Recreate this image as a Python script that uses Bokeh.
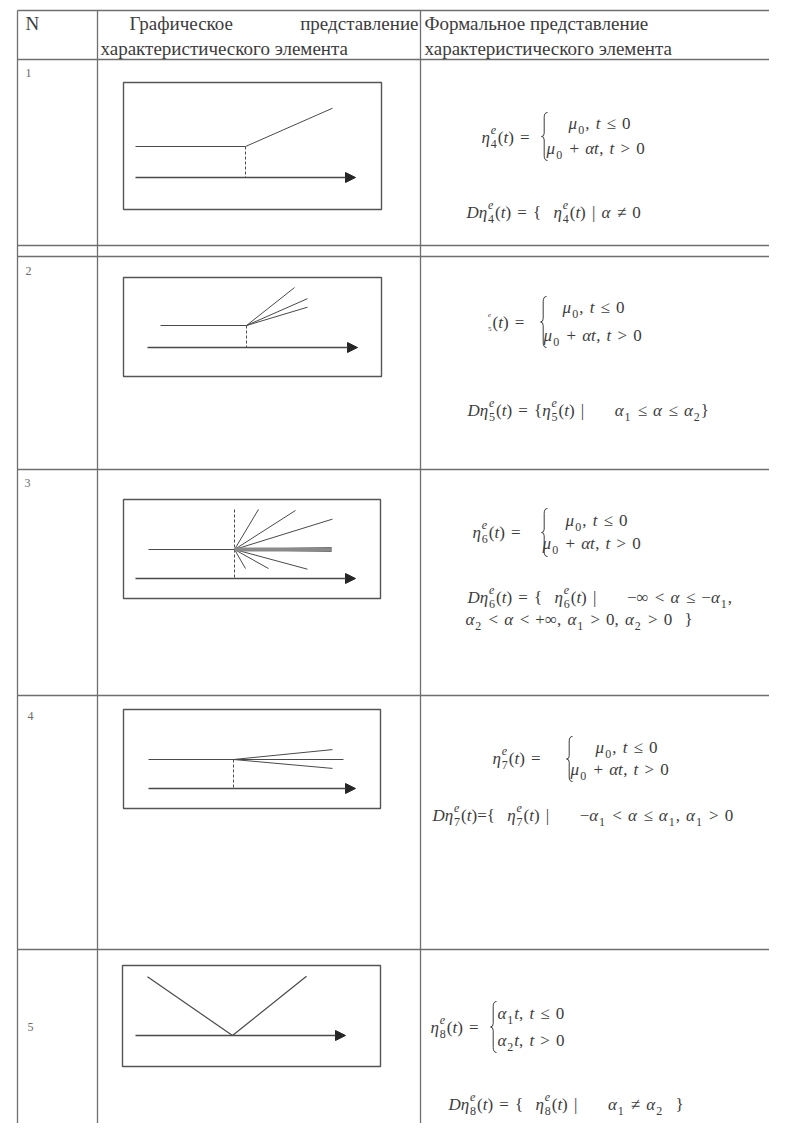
from bokeh.plotting import figure
from bokeh.models import Range1d, Arrow, NormalHead, ColumnDataSource
from bokeh.embed import file_html
from bokeh.resources import INLINE
from bokeh.core.properties import value

# ---------------- data ----------------
HEADER_N = "N"
HEADER_GRAPH = ["Графическое", "представление", "характеристического элемента"]
HEADER_FORMAL = ["Формальное представление", "характеристического элемента"]
ROW_LABELS = ["1", "2", "3", "4", "5"]

# diagram values (local units: t to the right of the break point, value above the time axis)
LEVEL = [31, 22, 29, 29, 0]                 # mu_0 level above the time axis
LEVEL_T0 = [-110, -86, -86, -85, 0]         # start of the constant part (t <= 0)
AXIS_T = [(-110, 110), (-99, 111), (-99, 121), (-85, 122), (-97, 113)]
DASH_TOP = [31, 22, 69, 29, 0]              # top of the dashed marker at t = 0
FAN_SLOPE = [
    [0.44],
    [0.79, 0.44, 0.30],
    [1.67, 0.64, 0.31, -0.02, -0.01, 0.0, 0.01, 0.02, -1.73, -0.56, -0.27],
    [0.10, 0.0, -0.09],
    [],
]
FAN_TEND = [
    [87],
    [48, 61, 61],
    [24, 61, 98, 97, 97, 97, 97, 97, 11, 34, 73],
    [99, 110, 99],
    [],
]
V_ALPHA = [-0.69, 0.80]    # row 5: alpha1 (t<=0), alpha2 (t>0)
V_TEND = [-85, 74]

FORMULAS = [
    # (lhs, line1, line2, domain lines)
    ("η^e_4(t) =", "μ_0, t ≤ 0", "μ_0 + αt, t > 0", ["Dη^e_4(t) = {  η^e_4(t) | α ≠ 0"]),
    ("^e_5(t) =", "μ_0, t ≤ 0", "μ_0 + αt, t > 0", ["Dη^e_5(t) = {η^e_5(t) |     α_1 ≤ α ≤ α_2}"]),
    ("η^e_6(t) =", "μ_0, t ≤ 0", "μ_0 + αt, t > 0",
     ["Dη^e_6(t) = {  η^e_6(t) |     −∞ < α ≤ −α_1,", "α_2 < α < +∞, α_1 > 0, α_2 > 0  }"]),
    ("η^e_7(t) =", "μ_0, t ≤ 0", "μ_0 + αt, t > 0", ["Dη^e_7(t)={  η^e_7(t) |     −α_1 < α ≤ α_1, α_1 > 0"]),
    ("η^e_8(t) =", "α_1t, t ≤ 0", "α_2t, t > 0", ["Dη^e_8(t) = {  η^e_8(t) |     α_1 ≠ α_2  }"]),
]

# ---------------- layout (page pixels) ----------------
W, H = 769, 1123
TABLE_L, COL1, COL2, RIGHT = 17, 97, 420, 790
HLINES = [10, 59, 245, 256, 469, 695, 949]
BOXES = [(123, 82, 381, 209), (123, 277, 381, 376), (123, 499, 380, 598),
         (123, 709, 380, 808), (122, 965, 380, 1066)]
ORIGINS = [(245, 177), (246, 347), (234, 578), (233, 788), (232, 1035)]
LABEL_POS = [(25, 72), (25, 270), (24, 482), (27, 715), (27, 1026)]
# formula placement: lhs(x,y), brace(x,y0,y1), line1(x,y), line2(x,y), domain lines [(x,y)]
FPOS = [
    ((481, 137), (541, 112, 160), (568, 123), (546, 148), [(466, 212)]),
    ((487, 322), (540, 296, 347), (562, 307), (543, 335), [(467, 410)]),
    ((472, 532), (541, 508, 556), (565, 520), (542, 543), [(467, 597), (465, 619)]),
    ((492, 758), (566, 736, 781), (595, 747), (570, 769), [(432, 815)]),
    ((430, 1027), (490, 1001, 1052), (497, 1013), (497, 1040), [(448, 1104)]),
]

LINE_C = "#6f6f6f"
INK = "#3c3c3c"
FONT = "Liberation Serif"
FSIZE = 17
SSIZE = 12

p = figure(width=W, height=H, x_range=Range1d(0, W), y_range=Range1d(H, 0),
           output_backend="svg", toolbar_location=None, min_border=0,
           x_axis_location=None, y_axis_location=None)
p.grid.visible = False
p.outline_line_color = None
p.background_fill_color = "white"
p.border_fill_color = "white"

# ---- table grid ----
p.segment(x0=[TABLE_L] * len(HLINES), y0=HLINES, x1=[RIGHT] * len(HLINES), y1=HLINES,
          line_color=LINE_C, line_width=1.3)
p.segment(x0=[TABLE_L, COL1, COL2], y0=[10] * 3, x1=[TABLE_L, COL1, COL2], y1=[1140] * 3,
          line_color=LINE_C, line_width=1.3)

# ---- header text ----
hdr_kw = dict(text_font=value(FONT), text_font_size="19px", text_color=INK, text_baseline="middle")
p.text(x=[25], y=[23], text=[HEADER_N], text_align="left", **hdr_kw)
p.text(x=[129], y=[23], text=[HEADER_GRAPH[0]], text_align="left", **hdr_kw)
p.text(x=[418], y=[23], text=[HEADER_GRAPH[1]], text_align="right", **hdr_kw)
p.text(x=[100], y=[48], text=[HEADER_GRAPH[2]], text_align="left", **hdr_kw)
p.text(x=[424], y=[23], text=[HEADER_FORMAL[0]], text_align="left", **hdr_kw)
p.text(x=[424], y=[48], text=[HEADER_FORMAL[1]], text_align="left", **hdr_kw)

# ---- row labels ----
p.text(x=[a for a, b in LABEL_POS], y=[b for a, b in LABEL_POS], text=ROW_LABELS,
       text_font=value(FONT), text_font_size="12px", text_color="#6a6a6a",
       text_baseline="middle", text_align="left")

# ---- diagrams ----
DC = "#4a4a4a"
for i in range(5):
    bx0, by0, bx1, by1 = BOXES[i]
    ox, oy = ORIGINS[i]
    p.quad(left=[bx0], right=[bx1], top=[by0], bottom=[by1], fill_color=None,
           line_color="#555555", line_width=1.4)

    def X(t):
        return ox + t

    def Y(v):
        return oy - v

    # time axis with arrow
    ta, tb = AXIS_T[i]
    p.add_layout(Arrow(end=NormalHead(size=10, fill_color="#262626", line_color="#262626"),
                       x_start=X(ta), y_start=Y(0), x_end=X(tb), y_end=Y(0),
                       line_color=DC, line_width=1.4))
    if i < 4:
        lv = LEVEL[i]
        p.line(x=[X(LEVEL_T0[i]), X(0)], y=[Y(lv), Y(lv)], line_color=DC, line_width=1.2)
        p.line(x=[X(0), X(0)], y=[Y(DASH_TOP[i]), Y(0)], line_color=DC, line_width=1.0,
               line_dash="3 2")
        xs0, ys0, xs1, ys1 = [], [], [], []
        for a, te in zip(FAN_SLOPE[i], FAN_TEND[i]):
            xs0.append(X(0)); ys0.append(Y(lv))
            xs1.append(X(te)); ys1.append(Y(lv + a * te))
        p.segment(x0=xs0, y0=ys0, x1=xs1, y1=ys1, line_color=DC, line_width=1.0)
        if i == 2:
            p.segment(x0=[X(0)], y0=[Y(lv)], x1=[X(97)], y1=[Y(lv)], line_color="#8a8a8a",
                      line_width=4)
    else:
        xs0, ys0, xs1, ys1 = [], [], [], []
        for a, te in zip(V_ALPHA, V_TEND):
            xs0.append(X(0)); ys0.append(Y(0))
            xs1.append(X(te)); ys1.append(Y(a * te))
        p.segment(x0=xs0, y0=ys0, x1=xs1, y1=ys1, line_color=DC, line_width=1.2)

# ---- formulas ----
WID = {'(': 0.333, ')': 0.333, '=': 0.564, '+': 0.564, ',': 0.25, '|': 0.2,
       '{': 0.48, '}': 0.48, '<': 0.564, '>': 0.564, '≤': 0.549, '≠': 0.549, '−': 0.564,
       '∞': 0.713, 'D': 0.722, 't': 0.278, 'e': 0.444, 'η': 0.52, 'μ': 0.55, 'α': 0.55}
SPACE = 0.36

items = {"x": [], "y": [], "text": [], "size": [], "style": []}


def emit(x, y, t, size, italic):
    items["x"].append(x); items["y"].append(y); items["text"].append(t)
    items["size"].append(f"{size}px"); items["style"].append("italic" if italic else "normal")


def typeset(x, y, markup, size=FSIZE, ssize=SSIZE):
    cur = x
    run, run_x, run_it = "", x, None
    i = 0

    def flush():
        nonlocal run
        if run:
            emit(run_x, y, run, size, run_it)
        run = ""

    while i < len(markup):
        c = markup[i]
        if c == " ":
            flush()
            cur += SPACE * size
            i += 1
            continue
        if c in "^_":
            flush()
            sup = sub = None
            if c == "^":
                sup = markup[i + 1]; i += 2
                if i < len(markup) and markup[i] == "_":
                    sub = markup[i + 1]; i += 2
            else:
                sub = markup[i + 1]; i += 2
            w = 0
            if sup:
                emit(cur + 0.5, y - 0.45 * size, sup, ssize, sup.isalpha())
                w = max(w, WID.get(sup, 0.5) * ssize)
            if sub:
                emit(cur + 0.5, y + 0.38 * size, sub, ssize, sub.isalpha())
                w = max(w, WID.get(sub, 0.5) * ssize)
            cur += w + 1.5
            continue
        it = c.isalpha()
        if run and it != run_it:
            flush()
        if not run:
            run_x, run_it = cur, it
        run += c
        cur += WID.get(c, 0.5) * size
        i += 1
    flush()
    return cur


bx0_, by0_, bx1_, by1_, bcx, bcy = [], [], [], [], [], []
sx0, sy0, sx1, sy1 = [], [], [], []


def brace(x, y0, y1, w=6):
    h = y1 - y0
    m = (y0 + y1) / 2
    xm = x + w * 0.45
    a, b = y0 + h * 0.1, m - h * 0.07
    c, d = m + h * 0.07, y1 - h * 0.1
    for (p0, p1, cc) in [((x + w, y0), (xm, a), (xm, y0)),
                         ((xm, b), (x, m), (xm, m)),
                         ((x, m), (xm, c), (xm, m)),
                         ((xm, d), (x + w, y1), (xm, y1))]:
        bx0_.append(p0[0]); by0_.append(p0[1]); bx1_.append(p1[0]); by1_.append(p1[1])
        bcx.append(cc[0]); bcy.append(cc[1])
    sx0.extend([xm, xm]); sy0.extend([a, c]); sx1.extend([xm, xm]); sy1.extend([b, d])


for i, (lhs, l1, l2, dom) in enumerate(FORMULAS):
    (lx, ly), (brx, bry0, bry1), (x1, y1), (x2, y2), dpos = FPOS[i]
    typeset(lx, ly, lhs, ssize=(7 if i == 1 else SSIZE))
    brace(brx, bry0, bry1)
    typeset(x1, y1, l1)
    typeset(x2, y2, l2)
    for (dx, dy), s in zip(dpos, dom):
        typeset(dx, dy, s)

p.quadratic(x0=bx0_, y0=by0_, x1=bx1_, y1=by1_, cx=bcx, cy=bcy, line_color=INK, line_width=1.0)
p.segment(x0=sx0, y0=sy0, x1=sx1, y1=sy1, line_color=INK, line_width=1.0)

src = ColumnDataSource(items)
p.text(x="x", y="y", text="text", source=src, text_font=value(FONT), text_font_size="size",
       text_font_style="style", text_color=INK, text_baseline="middle", text_align="left")

open("out.html", "w").write(file_html(p, INLINE))
